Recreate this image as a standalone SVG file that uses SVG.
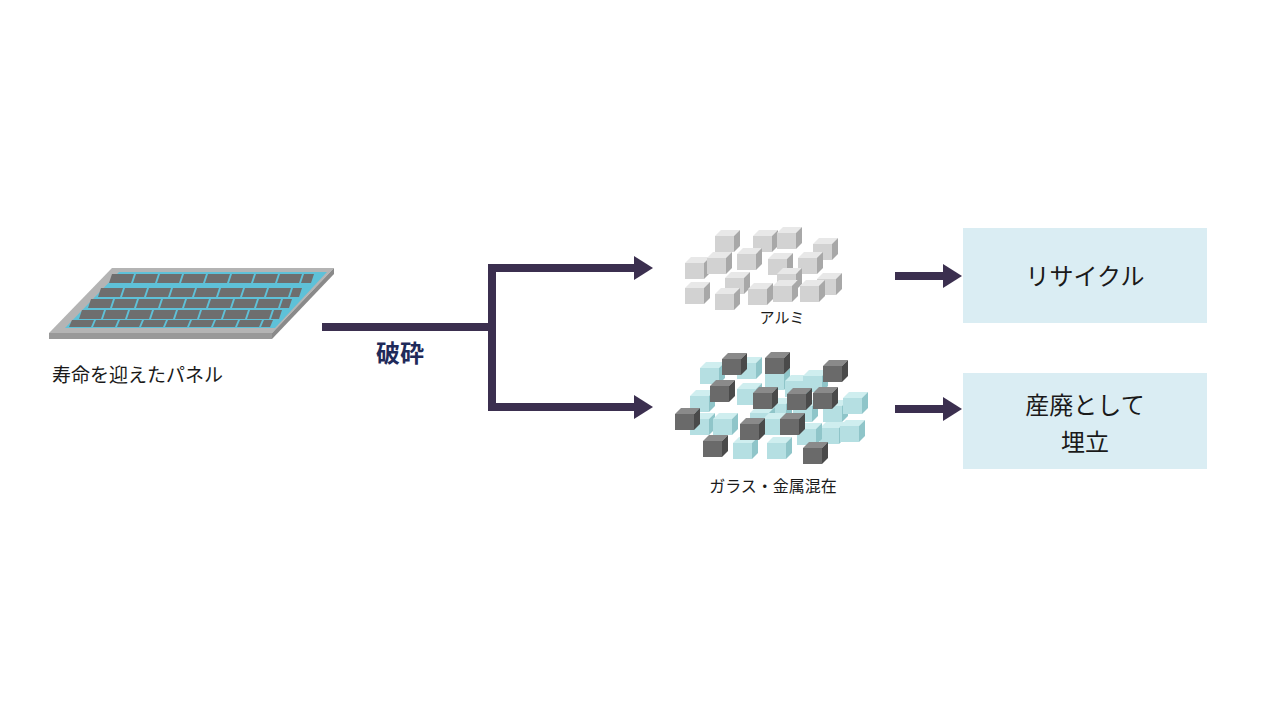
<svg xmlns="http://www.w3.org/2000/svg" xmlns:xlink="http://www.w3.org/1999/xlink" width="1280" height="720" viewBox="0 0 1280 720">
<style>
text{font-family:"Noto Sans CJK JP","Liberation Sans",sans-serif;fill:#1a1a1a}
.box{fill:#daedf3}
.conn{stroke:#3b2f4f;stroke-width:8;fill:none}
.ah{fill:#3b2f4f}
</style>
<defs>
<g id="cg"><polygon points="0,6 6,0 25,0 19,6" fill="#e8e8e8"/><rect x="0" y="6" width="19" height="16" fill="#d2d2d2"/><polygon points="19,6 25,0 25,16 19,22" fill="#a8a8a8"/></g>
<g id="cb"><polygon points="0,6 6,0 25,0 19,6" fill="#cfeeef"/><rect x="0" y="6" width="19" height="16" fill="#b5dfe2"/><polygon points="19,6 25,0 25,16 19,22" fill="#8fc5c9"/></g>
<g id="cd"><polygon points="0,6 6,0 25,0 19,6" fill="#8a8a8a"/><rect x="0" y="6" width="19" height="16" fill="#6a6a6a"/><polygon points="19,6 25,0 25,16 19,22" fill="#4a4a4a"/></g>
</defs>
<g id="panel">
<polygon points="49,333 112,268 334,268 272,333" fill="#b4b4b4"/>
<polygon points="49,333 272,333 272,339 49,339" fill="#999"/>
<polygon points="272,333 334,268 334,274 272,339" fill="#8a8a8a"/>
<polygon points="65,328 119,272 327,272 275,328" fill="#5ec1d8"/>
<g fill="#6e6e6e">
<polygon points="112,274 134,274 131,283 109,283"/><polygon points="136,274 158,274 155,283 133,283"/><polygon points="160,274 182,274 179,283 157,283"/><polygon points="184,274 206,274 203,283 181,283"/><polygon points="208,274 230,274 227,283 205,283"/><polygon points="232,274 254,274 251,283 229,283"/><polygon points="256,274 278,274 275,283 253,283"/><polygon points="280,274 302,274 299,283 277,283"/><polygon points="304,274 314,274 311,283 301,283"/>
<polygon points="101,288 123,288 120,297 98,297"/><polygon points="125,288 147,288 144,297 122,297"/><polygon points="149,288 171,288 168,297 146,297"/><polygon points="173,288 195,288 192,297 170,297"/><polygon points="197,288 219,288 216,297 194,297"/><polygon points="221,288 243,288 240,297 218,297"/><polygon points="245,288 267,288 264,297 242,297"/><polygon points="269,288 291,288 288,297 266,297"/><polygon points="293,288 302,288 299,297 290,297"/>
<polygon points="91,299 113,299 110,308 88,308"/><polygon points="115,299 137,299 134,308 112,308"/><polygon points="139,299 161,299 158,308 136,308"/><polygon points="163,299 185,299 182,308 160,308"/><polygon points="187,299 209,299 206,308 184,308"/><polygon points="211,299 233,299 230,308 208,308"/><polygon points="235,299 257,299 254,308 232,308"/><polygon points="259,299 281,299 278,308 256,308"/><polygon points="283,299 292,299 289,308 280,308"/>
<polygon points="82,310 104,310 101,319 79,319"/><polygon points="106,310 128,310 125,319 103,319"/><polygon points="130,310 152,310 149,319 127,319"/><polygon points="154,310 176,310 173,319 151,319"/><polygon points="178,310 200,310 197,319 175,319"/><polygon points="202,310 224,310 221,319 199,319"/><polygon points="226,310 248,310 245,319 223,319"/><polygon points="250,310 272,310 269,319 247,319"/><polygon points="274,310 282,310 279,319 271,319"/>
<polygon points="72,320 94,320 91,327 69,327"/><polygon points="96,320 118,320 115,327 93,327"/><polygon points="120,320 142,320 139,327 117,327"/><polygon points="144,320 166,320 163,327 141,327"/><polygon points="168,320 190,320 187,327 165,327"/><polygon points="192,320 214,320 211,327 189,327"/><polygon points="216,320 238,320 235,327 213,327"/><polygon points="240,320 262,320 259,327 237,327"/><polygon points="264,320 273,320 270,327 261,327"/>
</g>
<text x="52" y="382" font-size="19">寿命を迎えたパネル</text>
</g>
<g id="connectors">
<path class="conn" d="M322,327 H492 M492,268 V407 M488,268 H636 M488,407 H636"/>
<polygon class="ah" points="634,256 653,268 634,280"/>
<polygon class="ah" points="634,395 653,407 634,419"/>
<path class="conn" d="M895,276 H945 M895,409 H945"/>
<polygon class="ah" points="943,264 962,276 943,288"/>
<polygon class="ah" points="943,397 962,409 943,421"/>
<text x="400" y="362" font-size="24" font-weight="bold" text-anchor="middle" style="fill:#1f2a5a">破砕</text>
</g>
<g id="alumi">
<use href="#cg" x="715" y="230"/><use href="#cg" x="753" y="230"/><use href="#cg" x="777" y="227"/><use href="#cg" x="813" y="238"/><use href="#cg" x="737" y="248"/><use href="#cg" x="685" y="257"/><use href="#cg" x="707" y="252"/><use href="#cg" x="768" y="253"/><use href="#cg" x="798" y="252"/><use href="#cg" x="777" y="268"/><use href="#cg" x="725" y="272"/><use href="#cg" x="817" y="273"/><use href="#cg" x="685" y="282"/><use href="#cg" x="748" y="283"/><use href="#cg" x="773" y="280"/><use href="#cg" x="800" y="280"/><use href="#cg" x="715" y="288"/>
<text x="782" y="323" font-size="15" text-anchor="middle">アルミ</text>
</g>
<g id="glass">
<use href="#cb" x="700" y="362"/><use href="#cb" x="737" y="357"/><use href="#cb" x="765" y="368"/><use href="#cb" x="785" y="375"/><use href="#cb" x="803" y="370"/><use href="#cb" x="690" y="390"/><use href="#cb" x="737" y="383"/><use href="#cb" x="767" y="398"/><use href="#cb" x="823" y="400"/><use href="#cb" x="843" y="392"/><use href="#cb" x="690" y="413"/><use href="#cb" x="713" y="413"/><use href="#cb" x="750" y="407"/><use href="#cb" x="763" y="413"/><use href="#cb" x="793" y="400"/><use href="#cb" x="820" y="422"/><use href="#cb" x="840" y="420"/><use href="#cb" x="733" y="437"/><use href="#cb" x="767" y="437"/><use href="#cb" x="797" y="423"/>
<use href="#cd" x="722" y="353"/><use href="#cd" x="765" y="352"/><use href="#cd" x="823" y="360"/><use href="#cd" x="710" y="380"/><use href="#cd" x="753" y="387"/><use href="#cd" x="787" y="388"/><use href="#cd" x="813" y="387"/><use href="#cd" x="675" y="408"/><use href="#cd" x="740" y="418"/><use href="#cd" x="780" y="413"/><use href="#cd" x="703" y="435"/><use href="#cd" x="803" y="442"/>
<text x="773" y="492" font-size="16" text-anchor="middle">ガラス・金属混在</text>
</g>
<g id="recycle">
<rect class="box" x="963" y="228" width="244" height="95"/>
<text x="1085" y="285" font-size="24" text-anchor="middle">リサイクル</text>
</g>
<g id="landfill">
<rect class="box" x="963" y="373" width="244" height="96"/>
<text x="1085" y="414" font-size="24" text-anchor="middle">産廃として</text>
<text x="1085" y="451" font-size="24" text-anchor="middle">埋立</text>
</g>
</svg>
